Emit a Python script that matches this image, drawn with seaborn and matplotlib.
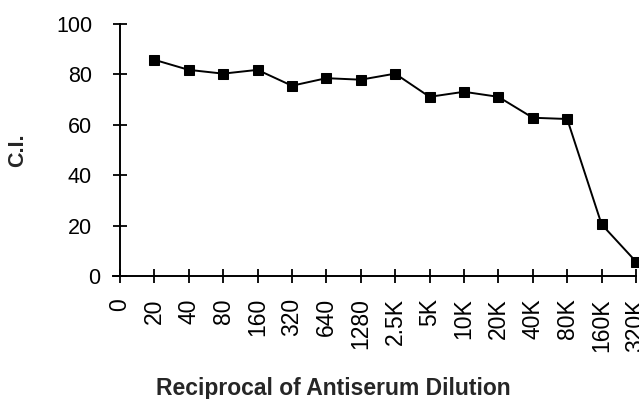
import numpy as np
import pandas as pd
import matplotlib
matplotlib.use("Agg")
import matplotlib.pyplot as plt
import matplotlib.transforms as mtransforms
import seaborn as sns

# dilution categories (tick labels) and C.I. values
dilutions = ["0", "20", "40", "80", "160", "320", "640", "1280", "2.5K",
             "5K", "10K", "20K", "40K", "80K", "160K", "320K"]
ci_values = [85.8, 81.8, 80.3, 81.8, 75.5, 78.5, 77.9, 80.3,
             71.1, 73.1, 71.1, 62.8, 62.3, 20.5, 5.7]

sns.set_style("ticks")
plt.rcParams["font.family"] = ["Liberation Sans", "DejaVu Sans"]

df = pd.DataFrame({
    "pos": np.arange(1, len(dilutions)),
    "ci": ci_values,
})

fig = plt.figure(figsize=(6.39, 3.99), dpi=100)
# x = 0 sits at 120 px, x = 15 at 636 px
ax = fig.add_axes([113 / 639, 1 - 276 / 399, 523 / 639, 252 / 399])

sns.lineplot(
    data=df,
    x="pos",
    y="ci",
    ax=ax,
    color="black",
    linewidth=1.4,
    marker="s",
    markersize=6.5,
    markeredgecolor="black",
    clip_on=False,
)

ax.set_xlim(-0.2, 15)
ax.set_ylim(0, 100)
ax.spines["left"].set_position(("data", 0))
ax.spines["top"].set_visible(False)
ax.spines["right"].set_visible(False)
for side in ["left", "bottom"]:
    ax.spines[side].set_color("black")
    ax.spines[side].set_linewidth(1.4)

ax.set_xticks(np.arange(len(dilutions)))
ax.set_xticklabels(dilutions, rotation=90)
ax.set_yticks([0, 20, 40, 60, 80, 100])
ax.tick_params(axis="both", direction="inout", length=10, width=1.3,
               colors="black", labelsize=15.5)
ax.tick_params(axis="x", pad=11, labelsize=16.5)
ax.tick_params(axis="y", pad=15)

# the "0" label on the y axis sits a bit to the right in the original
zero_lbl = ax.get_yticklabels()[0]
zero_lbl.set_transform(zero_lbl.get_transform() +
                       mtransforms.ScaledTranslation(6 / 72, 0, fig.dpi_scale_trans))

ax.set_xlabel("Reciprocal of Antiserum Dilution", fontsize=16.5,
              fontweight="bold")
ax.xaxis.set_label_coords(0.421, -0.40)
ax.set_ylabel("C.I.", fontsize=15.5, fontweight="bold", labelpad=20)

fig.savefig("out.png", dpi=100)
